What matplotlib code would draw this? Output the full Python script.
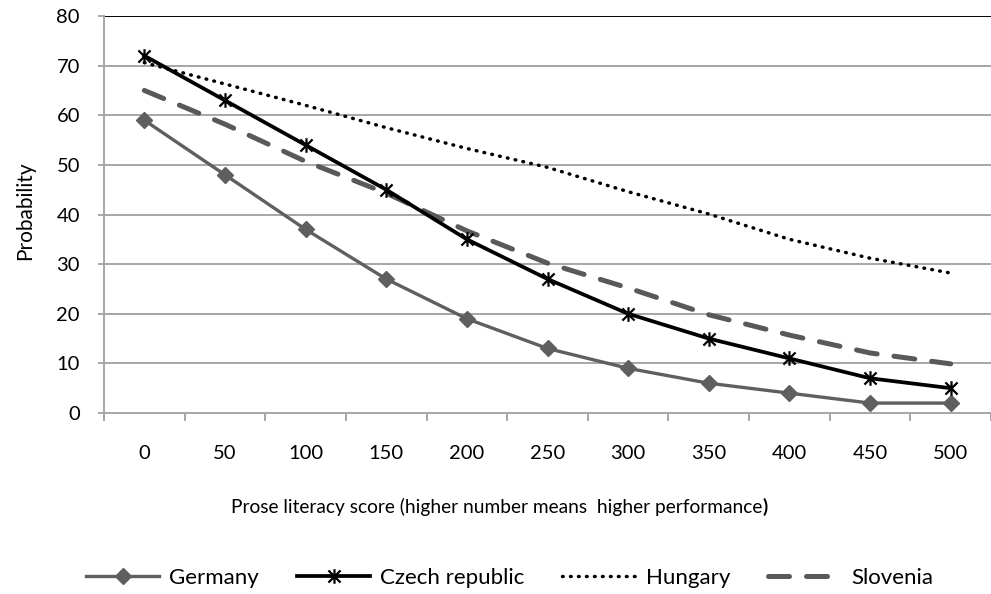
import matplotlib
matplotlib.use("Agg")
import matplotlib.pyplot as plt
from matplotlib.path import Path

plt.rcParams['font.family'] = ['Lato', 'DejaVu Sans']

categories = ["0", "50", "100", "150", "200", "250", "300", "350", "400", "450", "500"]
germany = [59, 48, 37, 27, 19, 13, 9, 6, 4, 2, 2]
czech = [72, 63, 54, 45, 35, 27, 20, 15, 11, 7, 5]
hungary = [70.6, 66.3, 62, 57.5, 53.3, 49.5, 44.6, 40.1, 35, 31.2, 28.2]
slovenia = [65, 58.2, 50.7, 44.3, 36.7, 30.2, 25.2, 19.8, 15.7, 12.1, 9.9]
yticks = [0, 10, 20, 30, 40, 50, 60, 70, 80]

star = Path([(-1, -1), (1, 1), (-1, 1), (1, -1), (0, -1.2), (0, 1.2)],
            [Path.MOVETO, Path.LINETO, Path.MOVETO, Path.LINETO, Path.MOVETO, Path.LINETO])

W, H = 991, 594
fig = plt.figure(figsize=(W/100, H/100), dpi=100)
ax = fig.add_axes([104/W, 1-413/H, 1-104/W, (413-16)/H])

x = list(range(len(categories)))
grid_c = '#a6a6a6'
for yv in yticks[1:]:
    ax.axhline(yv, color='black' if yv == 80 else grid_c, lw=1.4, zorder=1)

ax.plot(x, germany, color='#5f5f5f', lw=2.4, marker='D', ms=8, mfc='#5f5f5f', mec='#5f5f5f',
        label='Germany', zorder=3)
ax.plot(x, czech, color='black', lw=2.7, marker=star, ms=10.5, mew=1.6, mec='black', mfc='none',
        label='Czech republic', zorder=4)
ax.plot(x, hungary, color='black', lw=2.5, ls=(0, (0.2, 2.1)), dash_capstyle='round',
        label='Hungary', zorder=3)
ax.plot(x, slovenia, color='#595959', lw=3.6, ls=(0, (4.2, 3.4)), dash_capstyle='round',
        label='Slovenia', zorder=3)

ax.set_xlim(-0.5, len(categories) - 0.5)
ax.set_ylim(0, 80)
ax.set_yticks(yticks)
ax.set_yticklabels([str(v) for v in yticks], fontsize=14.5)
ax.set_xticks(x)
ax.set_xticklabels(categories, fontsize=14.5)
ax.set_xticks([i - 0.5 for i in range(len(categories) + 1)], minor=True)
ax.tick_params(axis='x', which='major', length=0, pad=23)
ax.tick_params(axis='x', which='minor', length=6, color=grid_c, width=1.4)
ax.tick_params(axis='y', length=4.3, color=grid_c, width=1.4, pad=13)
for s in ['top', 'right']:
    ax.spines[s].set_visible(False)
for s in ['left', 'bottom']:
    ax.spines[s].set_color(grid_c)
    ax.spines[s].set_linewidth(1.4)

fig.text(25/W, 1-211/H, 'Probability', fontsize=15, rotation=90, ha='center', va='center')

t = fig.text(497/W, 1-507/H, 'Prose literacy score (higher number means  higher performance', fontsize=13.8,
             ha='center', va='center')
ax.annotate(')', xy=(1, 0), xycoords=t, fontsize=13.8, fontweight='bold', ha='left', va='bottom')

fig.legend(loc='center left', bbox_to_anchor=(86/W, 1-578/H), ncol=4, frameon=False, fontsize=16,
           handlelength=3.3, columnspacing=1.7, handletextpad=0.45, borderpad=0, borderaxespad=0)

fig.savefig('out.png', dpi=100)
